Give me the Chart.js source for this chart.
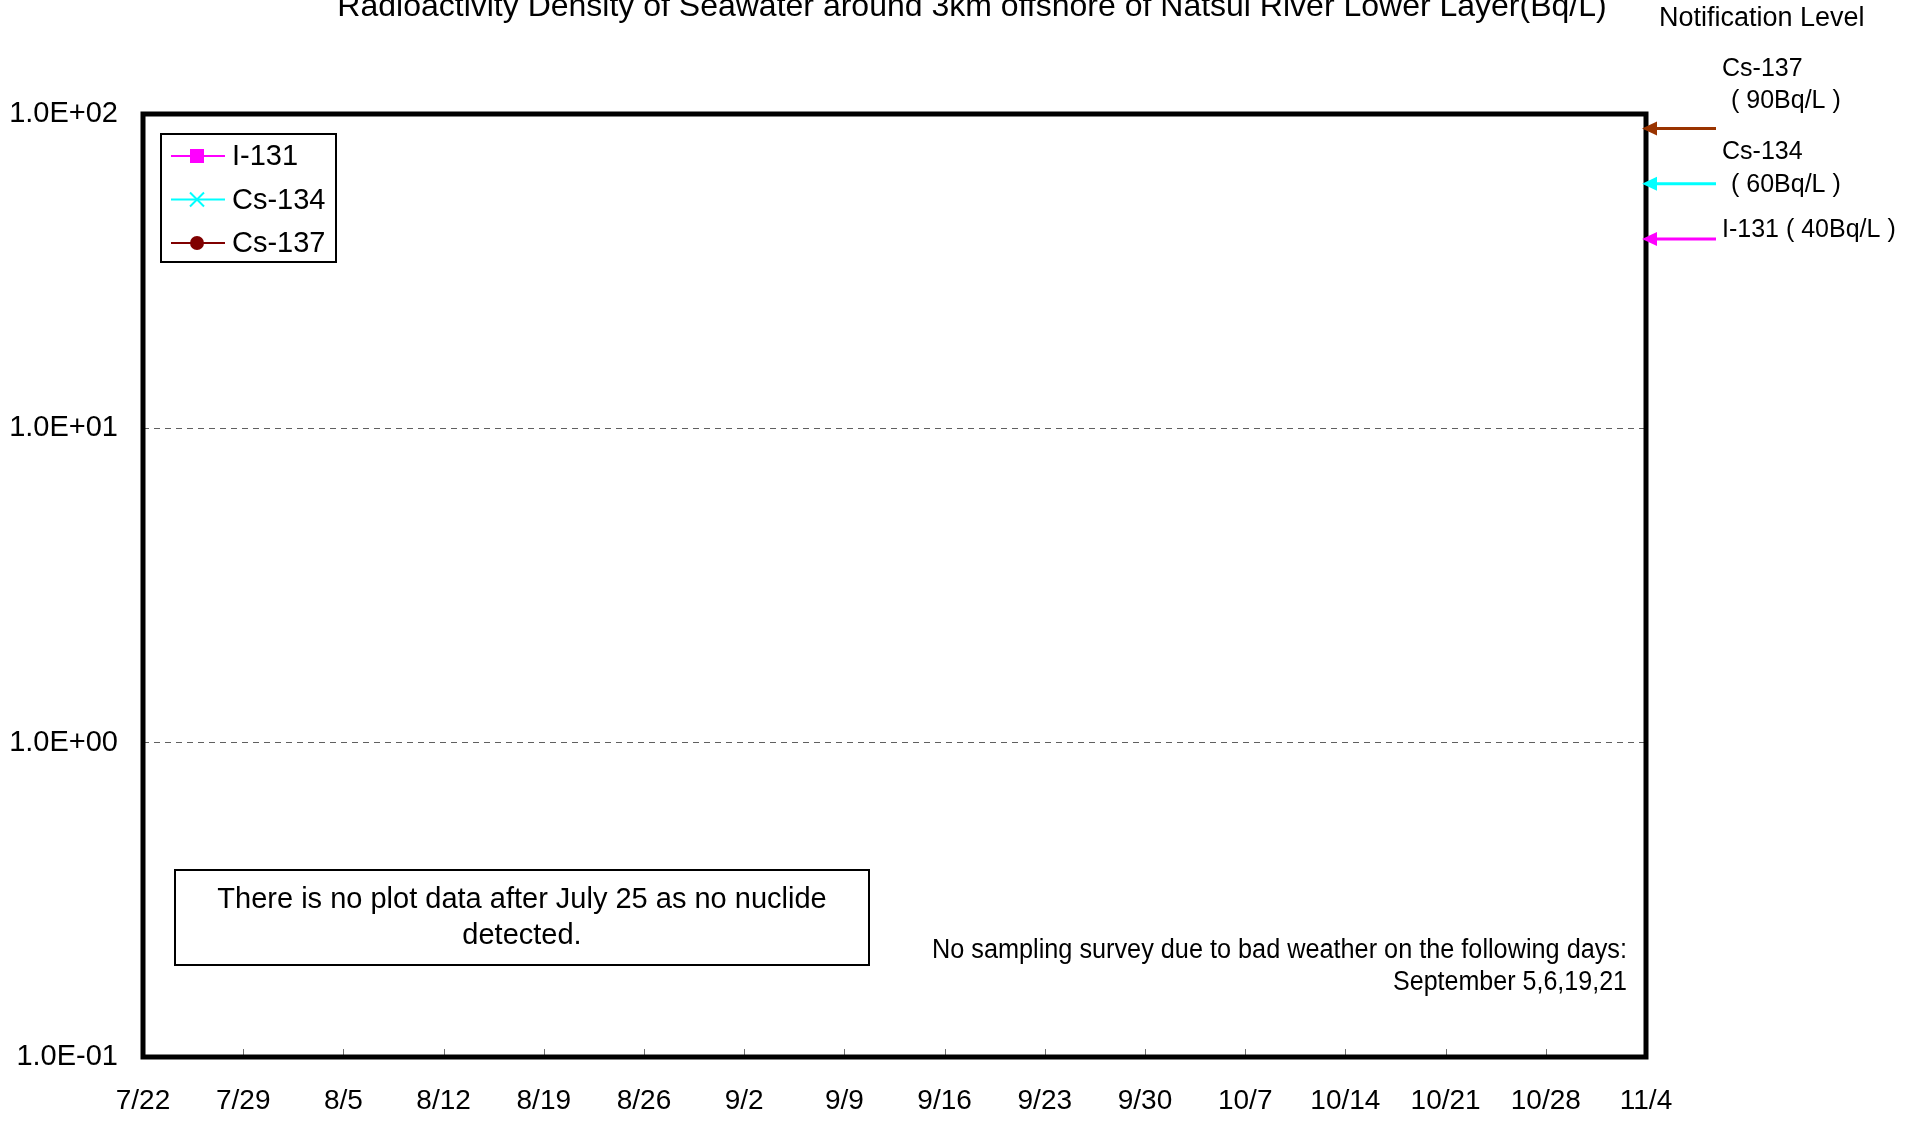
<!DOCTYPE html>
<html>
<head>
<meta charset="utf-8">
<script src="https://cdn.jsdelivr.net/npm/chart.js@4"></script>
<style>
  html, body { margin: 0; padding: 0; background: #fff; }
  #wrap { width: 1921px; height: 1121px; position: relative; }
</style>
</head>
<body>
<div id="wrap"><canvas id="chart"></canvas></div>
<script>
// axis labels (weekly)
const xLabels = ['7/22', '7/29', '8/5', '8/12', '8/19', '8/26', '9/2', '9/9',
                 '9/16', '9/23', '9/30', '10/7', '10/14', '10/21', '10/28', '11/4'];
const yTicks = [0.1, 1, 10, 100];

// no nuclide detected over the period -> nothing to plot
const i131 = [];
const cs134 = [];
const cs137 = [];

// notification levels (Bq/L)
const levelNames = ['Cs-137', 'Cs-134', 'I-131'];
const levelValues = [90, 60, 40];
const levelColors = ['#993300', '#00FFFF', '#FF00FF'];

const FONT = "'Liberation Sans', Arial, sans-serif";

function expLabel(v) {
  const e = Math.round(Math.log10(v));
  return '1.0E' + (e < 0 ? '-' : '+') + String(Math.abs(e)).padStart(2, '0');
}

// everything drawn around the plot: frame, inner ticks, legend, notes, arrows
const decorations = {
  id: 'decorations',
  afterDraw(chart) {
    const ctx = chart.ctx;
    const a = chart.chartArea;
    const xs = chart.scales.x;
    const ys = chart.scales.y;
    ctx.save();

    // small inner tick marks on the bottom axis
    ctx.strokeStyle = '#707070';
    ctx.lineWidth = 1;
    for (let i = 1; i < xLabels.length - 1; i++) {
      const px = Math.round(xs.getPixelForTick(i)) + 0.5;
      ctx.beginPath();
      ctx.moveTo(px, a.bottom);
      ctx.lineTo(px, a.bottom - 8);
      ctx.stroke();
    }

    // plot frame
    ctx.strokeStyle = '#000';
    ctx.lineWidth = 5;
    ctx.strokeRect(a.left, a.top, a.right - a.left, a.bottom - a.top);

    // title (partly cut at the top as in the original)
    ctx.fillStyle = '#000';
    ctx.font = '32px ' + FONT;
    ctx.textAlign = 'center';
    ctx.textBaseline = 'alphabetic';
    ctx.fillText('Radioactivity Density of Seawater around 3km offshore of Natsui River Lower Layer(Bq/L)', 972, 16);

    // legend
    const lx = a.left + 18, ly = a.top + 20;
    ctx.lineWidth = 2;
    ctx.strokeRect(lx, ly, 175, 128);
    ctx.font = '29px ' + FONT;
    ctx.textAlign = 'left';
    ctx.textBaseline = 'middle';
    chart.data.datasets.forEach((ds, i) => {
      const y = ly + 22 + i * 43.5;
      ctx.strokeStyle = ds.borderColor;
      ctx.lineWidth = 2;
      ctx.beginPath();
      ctx.moveTo(lx + 10, y);
      ctx.lineTo(lx + 64, y);
      ctx.stroke();
      const mx = lx + 36;
      ctx.fillStyle = ds.borderColor;
      if (ds.pointStyle === 'rect') {
        ctx.fillRect(mx - 7, y - 7, 14, 14);
      } else if (ds.pointStyle === 'cross') {
        ctx.lineWidth = 2;
        ctx.beginPath();
        ctx.moveTo(mx - 7, y - 7); ctx.lineTo(mx + 7, y + 7);
        ctx.moveTo(mx + 7, y - 7); ctx.lineTo(mx - 7, y + 7);
        ctx.stroke();
      } else {
        ctx.beginPath();
        ctx.arc(mx, y, 7, 0, Math.PI * 2);
        ctx.fill();
      }
      ctx.fillStyle = '#000';
      ctx.fillText(ds.label, lx + 71, y + 1);
    });

    // "no data" box
    ctx.strokeStyle = '#000';
    ctx.lineWidth = 2;
    ctx.strokeRect(175, 870, 694, 95);
    ctx.font = '29px ' + FONT;
    ctx.textAlign = 'center';
    ctx.fillText('There is no plot data after July 25 as no nuclide', 522, 900);
    ctx.fillText('detected.', 522, 936);

    // bad-weather note
    ctx.font = '27px ' + FONT;
    ctx.textAlign = 'right';
    ctx.fillText('No sampling survey due to bad weather on the following days:', 1627, 951, 695);
    ctx.fillText('September 5,6,19,21', 1627, 983, 234);

    // notification level arrows, placed on the y scale
    levelValues.forEach((v, i) => {
      const y = ys.getPixelForValue(v);
      ctx.strokeStyle = levelColors[i];
      ctx.fillStyle = levelColors[i];
      ctx.lineWidth = 3;
      ctx.beginPath();
      ctx.moveTo(1716, y);
      ctx.lineTo(a.right + 8, y);
      ctx.stroke();
      ctx.beginPath();
      ctx.moveTo(a.right - 4, y);
      ctx.lineTo(a.right + 11, y - 7);
      ctx.lineTo(a.right + 11, y + 7);
      ctx.closePath();
      ctx.fill();
    });

    ctx.fillStyle = '#000';
    ctx.textAlign = 'left';
    ctx.font = '27px ' + FONT;
    ctx.fillText('Notification Level', 1659, 19);
    ctx.font = '25px ' + FONT;
    ctx.fillText(levelNames[0], 1722, 69);
    ctx.fillText('( 90Bq/L )', 1731, 101);
    ctx.fillText(levelNames[1], 1722, 152);
    ctx.fillText('( 60Bq/L )', 1731, 185);
    ctx.fillText(levelNames[2] + ' ( 40Bq/L )', 1722, 230);

    ctx.restore();
  }
};

new Chart(document.getElementById('chart'), {
  type: 'line',
  data: {
    labels: xLabels,
    datasets: [
      { label: 'I-131', data: i131, borderColor: '#FF00FF', backgroundColor: '#FF00FF', pointStyle: 'rect', borderWidth: 2 },
      { label: 'Cs-134', data: cs134, borderColor: '#00FFFF', backgroundColor: '#00FFFF', pointStyle: 'cross', borderWidth: 2 },
      { label: 'Cs-137', data: cs137, borderColor: '#800000', backgroundColor: '#800000', pointStyle: 'circle', borderWidth: 2 }
    ]
  },
  options: {
    responsive: true,
    maintainAspectRatio: false,
    animation: false,
    layout: { padding: { top: 114, right: 275, bottom: 0, left: 0 } },
    plugins: {
      legend: { display: false },
      title: { display: false },
      tooltip: { enabled: false }
    },
    scales: {
      x: {
        type: 'category',
        offset: false,
        afterFit: s => { s.height = 64; },
        grid: { display: false },
        border: { display: false },
        ticks: {
          autoSkip: false,
          maxRotation: 0,
          padding: 19,
          color: '#000',
          font: { family: FONT, size: 28 }
        }
      },
      y: {
        type: 'logarithmic',
        min: 0.1,
        max: 100,
        afterFit: s => { s.width = 143; },
        afterBuildTicks: s => { s.ticks = yTicks.map(v => ({ value: v })); },
        grid: {
          drawTicks: false,
          color: ctx => (ctx.tick && (ctx.tick.value === 1 || ctx.tick.value === 10)) ? '#606060' : 'rgba(0,0,0,0)',
          lineWidth: 1
        },
        border: { display: false, dash: [6, 5] },
        ticks: {
          padding: 25,
          color: '#000',
          font: { family: FONT, size: 29 },
          callback: v => expLabel(v)
        }
      }
    }
  },
  plugins: [decorations]
});
</script>
</body>
</html>
